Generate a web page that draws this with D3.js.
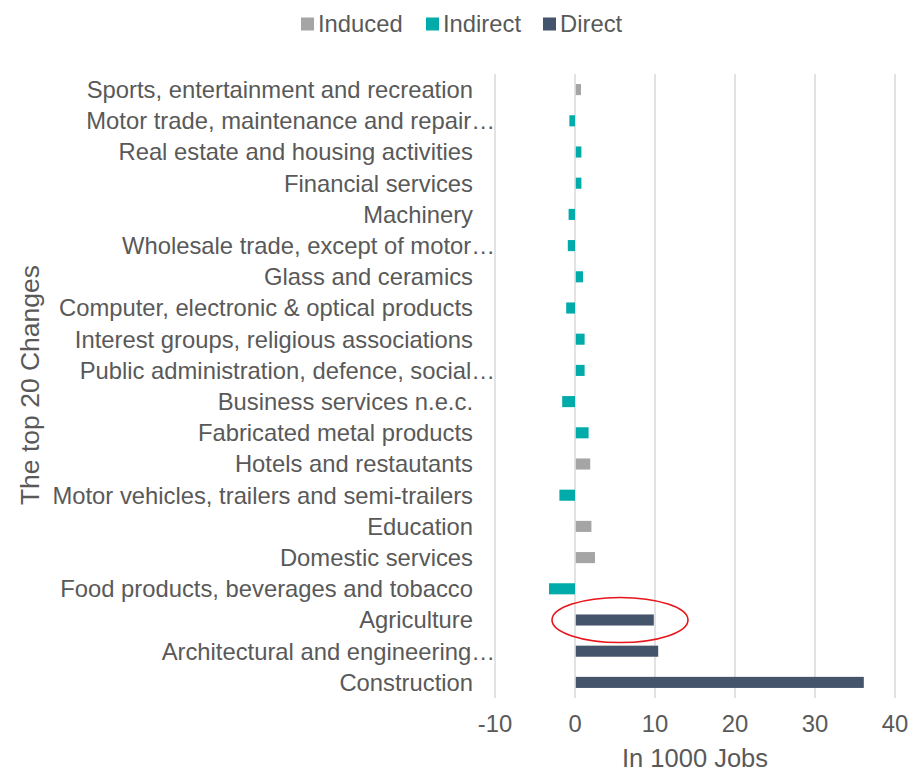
<!DOCTYPE html>
<html>
<head>
<meta charset="utf-8">
<script src="https://cdn.jsdelivr.net/npm/d3@7"></script>
<style>
  html, body { margin: 0; padding: 0; background: #fff; }
  svg { display: block; font-family: "Liberation Sans", Arial, sans-serif; }
</style>
</head>
<body>
<svg id="chart" width="910" height="773"></svg>
<script>
// Sectors, listed top to bottom
const categories = [
  "Sports, entertainment and recreation",
  "Motor trade, maintenance and repair…",
  "Real estate and housing activities",
  "Financial services",
  "Machinery",
  "Wholesale trade, except of motor…",
  "Glass and ceramics",
  "Computer, electronic & optical products",
  "Interest groups, religious associations",
  "Public administration, defence, social…",
  "Business services n.e.c.",
  "Fabricated metal products",
  "Hotels and restautants",
  "Motor vehicles, trailers and semi-trailers",
  "Education",
  "Domestic services",
  "Food products, beverages and tobacco",
  "Agriculture",
  "Architectural and engineering…",
  "Construction"
];

// Change in jobs (thousands) for each sector
const values = [
  0.65, -0.7, 0.7, 0.7, -0.8, -0.9, 0.9, -1.1, 1.1, 1.1,
  -1.6, 1.6, 1.8, -1.95, 1.95, 2.4, -3.25, 9.75, 10.3, 36.0
];

// Effect type of each sector's change
const effects = [
  "Induced", "Indirect", "Indirect", "Indirect", "Indirect", "Indirect", "Indirect", "Indirect", "Indirect", "Indirect",
  "Indirect", "Indirect", "Induced", "Indirect", "Induced", "Induced", "Indirect", "Direct", "Direct", "Direct"
];

const legendKeys = ["Induced", "Indirect", "Direct"];
const legendColors = ["#a5a5a5", "#00abaa", "#44546a"];
const xTicks = [-10, 0, 10, 20, 30, 40];
const highlighted = "Agriculture";

const rows = categories.map((c, i) => ({ name: c, value: values[i], effect: effects[i] }));

const svg = d3.select("#chart");
const textColor = "#595959";

const x = d3.scaleLinear().domain([-10, 40]).range([495, 895]);
const y = d3.scaleBand().domain(categories).range([74, 698])
  .paddingInner(0.645).paddingOuter(0.3225);
const color = d3.scaleOrdinal().domain(legendKeys).range(legendColors);

// Vertical gridlines
svg.append("g").selectAll("line").data(xTicks).join("line")
  .attr("x1", d => x(d)).attr("x2", d => x(d))
  .attr("y1", 74).attr("y2", 698)
  .attr("stroke", "#d9d9d9").attr("stroke-width", 1.5);

// Bars
svg.append("g").selectAll("rect").data(rows).join("rect")
  .attr("x", d => x(Math.min(0, d.value)) + (d.value >= 0 ? 0.8 : 0))
  .attr("y", d => y(d.name))
  .attr("width", d => Math.abs(x(d.value) - x(0)))
  .attr("height", y.bandwidth())
  .attr("fill", d => color(d.effect));

// Category labels; truncated names hang their ellipsis toward the plot
svg.append("g").selectAll("text").data(categories).join("text")
  .attr("x", d => d.endsWith("…") ? x(-10) : x(-10) - 22)
  .attr("y", d => y(d) + y.bandwidth() / 2)
  .attr("dy", "0.35em")
  .attr("text-anchor", "end")
  .attr("font-size", 23.8)
  .attr("fill", textColor)
  .text(d => d);

// X tick labels
svg.append("g").selectAll("text").data(xTicks).join("text")
  .attr("x", d => x(d)).attr("y", 724)
  .attr("dy", "0.35em")
  .attr("text-anchor", "middle")
  .attr("font-size", 23.8)
  .attr("fill", textColor)
  .text(d => d);

// Axis titles
svg.append("text")
  .attr("x", (x(-10) + x(40)) / 2).attr("y", 758)
  .attr("dy", "0.35em").attr("text-anchor", "middle")
  .attr("font-size", 25.5).attr("fill", textColor)
  .text("In 1000 Jobs");

svg.append("text")
  .attr("transform", "translate(30,385) rotate(-90)")
  .attr("dy", "0.35em").attr("text-anchor", "middle")
  .attr("font-size", 26.5).attr("fill", textColor)
  .text("The top 20 Changes");

// Legend
const legendX = [301, 426, 543];
const lg = svg.append("g").selectAll("g").data(legendKeys).join("g")
  .attr("transform", (d, i) => `translate(${legendX[i]},24)`);
lg.append("rect").attr("x", 0).attr("y", -6.5).attr("width", 13).attr("height", 13)
  .attr("fill", d => color(d));
lg.append("text").attr("x", 17).attr("dy", "0.35em")
  .attr("font-size", 23.8).attr("fill", textColor).text(d => d);

// Highlight ring around the selected sector
const hiRow = rows.find(r => r.name === highlighted);
svg.append("ellipse")
  .attr("cx", (x(0) + x(hiRow.value)) / 2 + 6)
  .attr("cy", y(highlighted) + y.bandwidth() / 2)
  .attr("rx", 68).attr("ry", 22.5)
  .attr("fill", "none").attr("stroke", "#e8141b").attr("stroke-width", 1.6);
</script>
</body>
</html>
